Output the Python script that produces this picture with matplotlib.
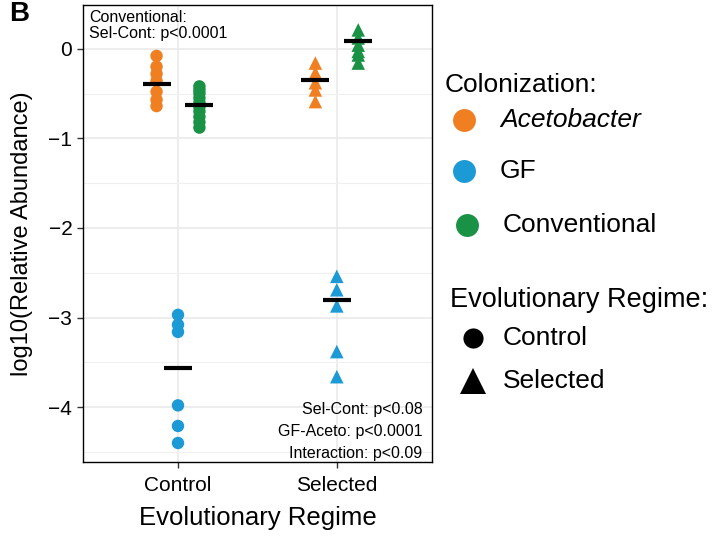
import numpy as np
import matplotlib.pyplot as plt
from matplotlib.lines import Line2D

plt.rcParams['font.family'] = ['Liberation Sans', 'DejaVu Sans']

# log10 relative abundance
regimes = ['Control', 'Selected']
colonizations = ['Acetobacter', 'GF', 'Conventional']
colors = {'Acetobacter': '#F07F22', 'GF': '#1B9AD6', 'Conventional': '#1A9245'}
markers = {'Control': 'o', 'Selected': '^'}

ctrl_aceto = [-0.08, -0.20, -0.28, -0.36, -0.48, -0.57, -0.64]
ctrl_gf = [-2.97, -3.08, -3.16, -3.98, -4.21, -4.40]
ctrl_conv = [-0.42, -0.46, -0.50, -0.55, -0.60, -0.65, -0.70, -0.76, -0.82, -0.88]
sel_aceto = [-0.16, -0.27, -0.38, -0.46, -0.59]
sel_gf = [-2.54, -2.69, -2.87, -3.38, -3.66]
sel_conv = [0.21, 0.12, 0.04, -0.03, -0.07, -0.16]

# group means (black bars)
ctrl_means = [-0.39, -3.56, -0.63]
sel_means = [-0.35, -2.80, 0.09]

data = {
    'Control': [ctrl_aceto, ctrl_gf, ctrl_conv],
    'Selected': [sel_aceto, sel_gf, sel_conv],
}
means = {'Control': ctrl_means, 'Selected': sel_means}

fig = plt.figure(figsize=(7.13, 5.37), dpi=100)
ax = fig.add_axes([0.116, 0.140, 0.490, 0.851])

offsets = [-0.135, 0.0, 0.135]
for i, reg in enumerate(regimes):
    xc = i + 1
    for j, col in enumerate(colonizations):
        vals = data[reg][j]
        sz = 80 if reg == 'Control' else 95
        ax.scatter(np.full(len(vals), xc + offsets[j]), vals, s=sz,
                   marker=markers[reg], color=colors[col], edgecolors='none', zorder=3)
        ax.hlines(means[reg][j], xc + offsets[j] - 0.088, xc + offsets[j] + 0.088,
                  color='black', lw=3, zorder=4)

ax.set_xlim(0.4, 2.6)
ax.set_ylim(-4.61, 0.49)
ax.set_xticks([1, 2])
ax.set_xticklabels(regimes, fontsize=15)
ax.set_yticks([0, -1, -2, -3, -4])
ax.set_yticklabels(['0', '\u22121', '\u22122', '\u22123', '\u22124'], fontsize=15)
ax.set_yticks(np.arange(-4.5, 0.5, 1.0), minor=True)
ax.tick_params(axis='y', which='minor', length=0)
ax.grid(True, which='major', color='#E8E8E8', lw=1.1)
ax.grid(True, which='minor', axis='y', color='#F0F0F0', lw=0.8)
ax.set_axisbelow(True)
for sp in ax.spines.values():
    sp.set_color('black')
    sp.set_linewidth(1.0)
ax.tick_params(axis='both', which='major', color='#333333', length=4, width=1)
ax.tick_params(axis='x', pad=6)

ax.set_xlabel('Evolutionary Regime', fontsize=18.5, labelpad=8)
ax.set_ylabel('log10(Relative Abundance)', fontsize=17, labelpad=11)

ax.text(0.018, 0.988, 'Conventional:\nSel-Cont: p<0.0001', transform=ax.transAxes,
        ha='left', va='top', fontsize=11.5, linespacing=1.05)
ax.text(0.972, 0.001, 'Sel-Cont: p<0.08\nGF-Aceto: p<0.0001\nInteraction: p<0.09',
        transform=ax.transAxes, ha='right', va='bottom', fontsize=11.5, linespacing=1.6)

fig.text(0.013, 0.998, 'B', fontsize=20, fontweight='bold', ha='left', va='top')

# legends drawn in figure coordinates
W, H = 713, 537
def fx(px):
    return px / W
def fy(py):
    return 1 - py / H

fig.text(fx(445), fy(85), 'Colonization:', fontsize=19, ha='left', va='center')
leg_y = [120, 171, 225]
leg_x = [464, 464, 467]
for col, px, py in zip(colonizations, leg_x, leg_y):
    fig.add_artist(Line2D([fx(px)], [fy(py)], marker='o', markersize=16.5,
                          color=colors[col], markeredgewidth=0, transform=fig.transFigure))
    style = 'italic' if col == 'Acetobacter' else 'normal'
    tx = 503 if col == 'Conventional' else 500
    fig.text(fx(tx), fy(py), col, fontsize=19, style=style, ha='left', va='center')

fig.text(fx(450), fy(300), 'Evolutionary Regime:', fontsize=19.5, ha='left', va='center')
for reg, py, ms in zip(regimes, [338, 381], [14.5, 19]):
    fig.add_artist(Line2D([fx(473)], [fy(py)], marker=markers[reg], markersize=ms,
                          color='black', markeredgewidth=0, transform=fig.transFigure))
    fig.text(fx(503), fy(py), reg, fontsize=19, ha='left', va='center')

fig.savefig('out.png', dpi=100)
